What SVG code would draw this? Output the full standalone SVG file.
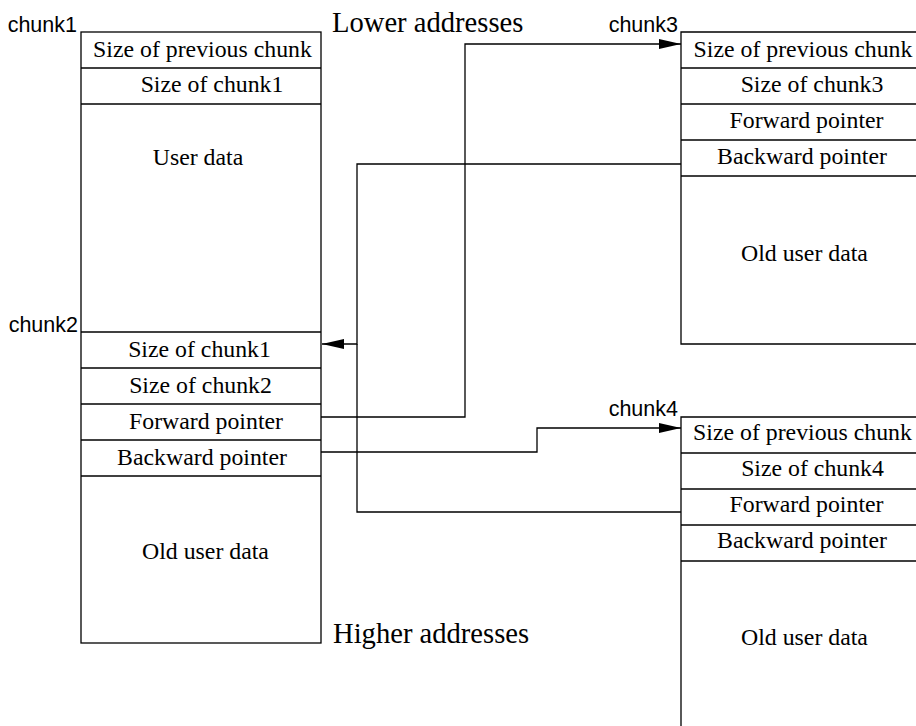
<svg xmlns="http://www.w3.org/2000/svg" width="916" height="726" viewBox="0 0 916 726">
  <style>
    .box { fill: none; stroke: #000; stroke-width: 1.3; }
    .sep { stroke: #000; stroke-width: 1.3; }
    .wire { fill: none; stroke: #000; stroke-width: 1.3; }
    .field { font-family: "Liberation Serif", "Times New Roman", serif; font-size: 23.8px; fill: #000; text-anchor: middle; }
    .tag { font-family: "Liberation Sans", Arial, sans-serif; font-size: 21.5px; fill: #000; text-anchor: end; }
    .note { font-family: "Liberation Serif", "Times New Roman", serif; font-size: 28.6px; fill: #000; }
  </style>
  <defs>
    <marker id="arrow" markerUnits="userSpaceOnUse" markerWidth="22" markerHeight="10" refX="22" refY="5" orient="auto">
      <path d="M0,0 L22,5 L0,10 Z" fill="#000"/>
    </marker>
  </defs>
  <rect width="916" height="726" fill="#fff"/>

  <!-- Address direction notes -->
  <text class="note" x="332" y="32">Lower addresses</text>
  <text class="note" x="333" y="643">Higher addresses</text>

  <!-- chunk1 / chunk2 (adjacent in memory) -->
  <g id="chunk1">
    <text class="tag" x="77" y="32">chunk1</text>
    <rect class="box" x="81" y="32" width="240" height="611"/>
    <line class="sep" x1="81" y1="68" x2="321" y2="68"/>
    <line class="sep" x1="81" y1="104" x2="321" y2="104"/>
    <text class="field" x="202.5" y="57">Size of previous chunk</text>
    <text class="field" x="212" y="92">Size of chunk1</text>
    <text class="field" x="198" y="165">User data</text>
  </g>
  <g id="chunk2">
    <text class="tag" x="78" y="332">chunk2</text>
    <line class="sep" x1="81" y1="332" x2="321" y2="332"/>
    <line class="sep" x1="81" y1="368" x2="321" y2="368"/>
    <line class="sep" x1="81" y1="404" x2="321" y2="404"/>
    <line class="sep" x1="81" y1="440" x2="321" y2="440"/>
    <line class="sep" x1="81" y1="476" x2="321" y2="476"/>
    <text class="field" x="199.5" y="357">Size of chunk1</text>
    <text class="field" x="200.5" y="393">Size of chunk2</text>
    <text class="field" x="206" y="429">Forward pointer</text>
    <text class="field" x="202" y="465">Backward pointer</text>
    <text class="field" x="205.5" y="559">Old user data</text>
  </g>

  <!-- chunk3 -->
  <g id="chunk3">
    <text class="tag" x="678" y="32">chunk3</text>
    <path class="box" d="M930,32 H681 V344 H930"/>
    <line class="sep" x1="681" y1="68" x2="930" y2="68"/>
    <line class="sep" x1="681" y1="104" x2="930" y2="104"/>
    <line class="sep" x1="681" y1="140" x2="930" y2="140"/>
    <line class="sep" x1="681" y1="176" x2="930" y2="176"/>
    <text class="field" x="803" y="57">Size of previous chunk</text>
    <text class="field" x="812" y="92">Size of chunk3</text>
    <text class="field" x="806.5" y="128">Forward pointer</text>
    <text class="field" x="802" y="164">Backward pointer</text>
    <text class="field" x="804.5" y="261">Old user data</text>
  </g>

  <!-- chunk4 -->
  <g id="chunk4">
    <text class="tag" x="678" y="416">chunk4</text>
    <path class="box" d="M930,417 H681 V740"/>
    <line class="sep" x1="681" y1="453" x2="930" y2="453"/>
    <line class="sep" x1="681" y1="489" x2="930" y2="489"/>
    <line class="sep" x1="681" y1="525" x2="930" y2="525"/>
    <line class="sep" x1="681" y1="561" x2="930" y2="561"/>
    <text class="field" x="802.5" y="440">Size of previous chunk</text>
    <text class="field" x="812.5" y="476">Size of chunk4</text>
    <text class="field" x="806.5" y="512">Forward pointer</text>
    <text class="field" x="802" y="548">Backward pointer</text>
    <text class="field" x="804.5" y="645">Old user data</text>
  </g>

  <!-- Free-list links -->
  <g id="connectors">
    <path class="wire" d="M321,417 H465 V44 H681" marker-end="url(#arrow)"/>
    <path class="wire" d="M321,452 H537 V428 H681" marker-end="url(#arrow)"/>
    <path class="wire" d="M681,164 H357 V344 H322" marker-end="url(#arrow)"/>
    <path class="wire" d="M681,512 H357 V344"/>
  </g>
</svg>
